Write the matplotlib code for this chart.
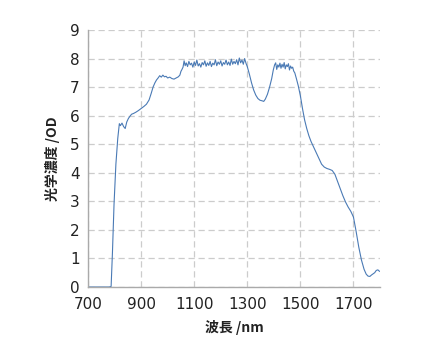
import matplotlib.pyplot as plt

plt.rcParams['font.family'] = ['Noto Sans CJK JP', 'DejaVu Sans']

# 波長 (nm)
wavelength = ([700, 720, 740, 760, 780, 787, 792, 798, 805, 812, 818, 822, 828, 834, 840]
              + [846, 852, 858, 864, 872, 880, 890, 900, 910, 920, 930, 938, 945, 952, 958]
              + [964, 970, 976, 982, 988, 994, 1000, 1008, 1016, 1024, 1032, 1040, 1046,
                 1050, 1054, 1058, 1062]
              + [1066] + list(range(1070, 1291, 5))
              + [1295, 1300, 1308, 1316, 1324, 1332, 1340, 1348, 1356, 1362, 1368, 1376,
                 1384, 1392, 1398, 1403]
              + list(range(1407, 1480, 4))
              + [1485, 1492, 1500, 1508, 1516, 1524, 1532, 1540, 1550, 1560, 1570, 1580,
                 1590, 1600, 1610, 1620, 1630, 1640, 1650, 1660, 1670, 1680, 1690, 1700]
              + [1710, 1720, 1730, 1740, 1748, 1755, 1762, 1768, 1774, 1780, 1786, 1792, 1798])

# 光学濃度 (OD)
od = ([0.0, 0.0, 0.0, 0.0, 0.0, 0.02, 1.2, 2.9, 4.3, 5.2, 5.72, 5.65, 5.74, 5.62, 5.55]
      + [5.78, 5.9, 5.98, 6.05, 6.08, 6.12, 6.18, 6.25, 6.32, 6.4, 6.55, 6.78, 7.0, 7.15, 7.25]
      + [7.32, 7.4, 7.35, 7.42, 7.36, 7.38, 7.32, 7.35, 7.3, 7.28, 7.32, 7.36, 7.42,
         7.55, 7.62, 7.7, 7.92]
      + [7.75, 7.85, 7.72, 7.9, 7.78, 7.84, 7.7, 7.88, 7.76, 7.95, 7.74, 7.82, 7.7, 7.86,
         7.78, 7.92, 7.73, 7.85, 7.76, 7.9, 7.72, 7.84, 7.78, 7.96, 7.75, 7.88, 7.8, 7.92,
         7.74, 7.86, 7.8, 7.95, 7.78, 7.88, 7.76, 7.98, 7.8, 7.9, 7.82, 7.96, 7.78, 8.02,
         7.85, 7.95, 7.8, 8.0]
      + [7.84, 7.72, 7.45, 7.15, 6.9, 6.72, 6.6, 6.54, 6.52, 6.5, 6.58, 6.75,
         7.0, 7.3, 7.6, 7.78]
      + [7.85, 7.62, 7.78, 7.7, 7.84, 7.66, 7.8, 7.7, 7.86, 7.64, 7.78, 7.72, 7.82, 7.6,
         7.74, 7.66, 7.7, 7.56, 7.5]
      + [7.3, 7.05, 6.7, 6.25, 5.85, 5.55, 5.3, 5.1, 4.9, 4.7, 4.5, 4.3,
         4.2, 4.15, 4.12, 4.08, 3.95, 3.7, 3.45, 3.2, 2.98, 2.8, 2.65, 2.45]
      + [1.95, 1.4, 0.95, 0.62, 0.45, 0.38, 0.37, 0.42, 0.46, 0.5, 0.58, 0.6, 0.55])

fig = plt.figure(figsize=(4.3, 3.59), dpi=100)
ax = fig.add_axes([0.2047, 0.2006, 0.679, 0.7158])
ax.plot(wavelength, od, color='#4a7ab5', linewidth=0.8)

ax.set_xlim(700, 1800)
ax.set_ylim(0, 9)
ax.set_xticks([700, 900, 1100, 1300, 1500, 1700])
ax.set_yticks(range(0, 10))
ax.tick_params(length=0, labelsize=11, colors='#222222')
ax.tick_params(axis='x', pad=7)
ax.tick_params(axis='y', pad=6)
for lbl in ax.get_xticklabels() + ax.get_yticklabels():
    lbl.set_family(['DejaVu Sans'])

ax.grid(True, linestyle=(0, (5, 3)), color='#cccccc', linewidth=0.9)
ax.set_axisbelow(True)
for s in ['top', 'right']:
    ax.spines[s].set_visible(False)
for s in ['left', 'bottom']:
    ax.spines[s].set_color('#aaaaaa')
    ax.spines[s].set_linewidth(1.0)

ax.set_xlabel('波長 /nm', fontsize=10, fontweight='bold', color='#222222', labelpad=6)
ax.set_ylabel('光学濃度 /OD', fontsize=10, fontweight='bold', color='#222222', labelpad=7)

fig.savefig('out.png', dpi=100)
